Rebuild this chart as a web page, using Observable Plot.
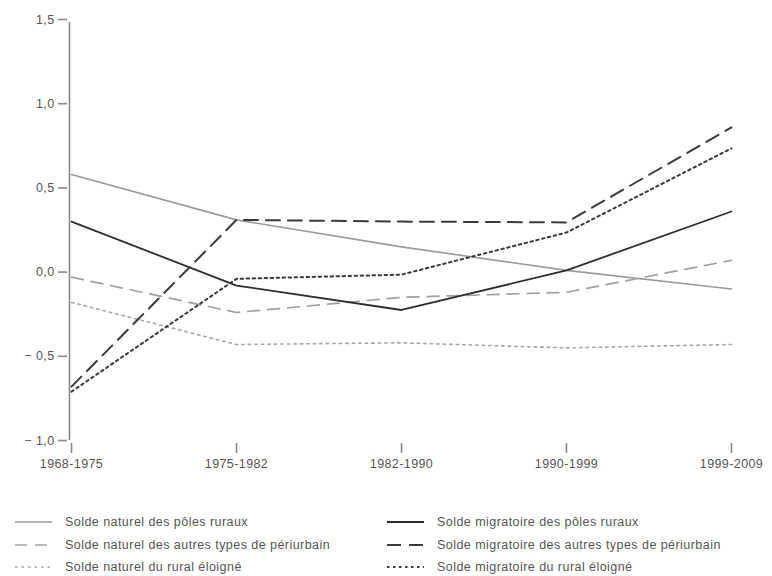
<!DOCTYPE html>
<html>
<head>
<meta charset="utf-8">
<script src="https://cdn.jsdelivr.net/npm/d3@7"></script>
<script src="https://cdn.jsdelivr.net/npm/@observablehq/plot@0.6"></script>
<style>
  html, body { margin: 0; padding: 0; background: #fff; }
  body { width: 772px; height: 576px; overflow: hidden; font-family: "Liberation Sans", Arial, sans-serif; }
  #legend { position: absolute; left: 0; top: 512px; width: 772px; font-size: 12.5px; letter-spacing: 0.45px; color: #555; }
  .item { position: absolute; height: 20px; display: flex; align-items: center; }
  .item svg { margin-right: 13px; }
</style>
</head>
<body>
<div id="chart"></div>
<div id="legend"></div>
<script>
const periods = ["1968-1975", "1975-1982", "1982-1990", "1990-1999", "1999-2009"];
const yTicks = [-1.0, -0.5, 0.0, 0.5, 1.0, 1.5];

const seriesNames = [
  "Solde naturel des pôles ruraux",
  "Solde naturel des autres types de périurbain",
  "Solde naturel du rural éloigné",
  "Solde migratoire des pôles ruraux",
  "Solde migratoire des autres types de périurbain",
  "Solde migratoire du rural éloigné"
];

const naturelPoles      = [0.58, 0.31, 0.15, 0.01, -0.10];
const naturelPeriurbain = [-0.03, -0.24, -0.15, -0.12, 0.07];
const naturelRural      = [-0.18, -0.43, -0.42, -0.45, -0.43];
const migratoirePoles      = [0.30, -0.08, -0.225, 0.01, 0.36];
const migratoirePeriurbain = [-0.68, 0.31, 0.30, 0.295, 0.86];
const migratoireRural      = [-0.71, -0.04, -0.015, 0.235, 0.735];

const seriesValues = [naturelPoles, naturelPeriurbain, naturelRural, migratoirePoles, migratoirePeriurbain, migratoireRural];

const styles = [
  {stroke: "#9a9a9a", strokeWidth: 1.6, dash: null},
  {stroke: "#a0a0a0", strokeWidth: 1.7, dash: "12,8"},
  {stroke: "#a6a6a6", strokeWidth: 1.6, dash: "2.5,4"},
  {stroke: "#2e2e2e", strokeWidth: 1.8, dash: null},
  {stroke: "#3a3a3a", strokeWidth: 2.0, dash: "14,8"},
  {stroke: "#3a3a3a", strokeWidth: 2.0, dash: "2.5,3.5"}
];

const fmt = d => {
  const s = Math.abs(d).toFixed(1).replace(".", ",");
  return d < 0 ? "\u2212 " + s : s;
};

const lineMarks = seriesValues.map((vals, i) => {
  const data = periods.map((p, j) => ({period: p, value: vals[j]}));
  const st = styles[i];
  return Plot.line(data, {
    x: "period", y: "value",
    stroke: st.stroke, strokeWidth: st.strokeWidth,
    strokeDasharray: st.dash || undefined
  });
});

const chart = Plot.plot({
  width: 772,
  height: 490,
  marginLeft: 69,
  marginRight: 40,
  marginTop: 19,
  marginBottom: 50,
  style: {fontFamily: "Liberation Sans, Arial, sans-serif", fontSize: "12.5px", color: "#555", letterSpacing: "0.4px"},
  x: {type: "point", domain: periods, padding: 0, label: null},
  y: {domain: [-1, 1.5], label: null},
  marks: [
    Plot.ruleX([periods[0]], {y1: -1, y2: 1.5, dx: -2, insetBottom: -3, stroke: "#8a8a8a", strokeWidth: 1.6}),
    Plot.ruleY([-1], {dy: 3, x1: periods[0], x2: periods[4], insetLeft: -2, stroke: "#8a8a8a", strokeWidth: 1.6}),
    Plot.axisY(yTicks, {
      tickSize: 9, dx: -2, tickPadding: 4, tickFormat: fmt, label: null,
      stroke: "#8a8a8a", strokeWidth: 1.6, fill: "#555"
    }),
    Plot.axisX(periods, {
      tickSize: 10, dy: 3, tickPadding: 6, label: null,
      stroke: "#8a8a8a", strokeWidth: 1.6, fill: "#555"
    }),
    ...lineMarks
  ]
});
document.getElementById("chart").appendChild(chart);

// Legend
const legend = d3.select("#legend");
const positions = [
  {left: 15, top: 0}, {left: 15, top: 23}, {left: 15, top: 45},
  {left: 387, top: 0}, {left: 387, top: 23}, {left: 387, top: 45}
];
seriesNames.forEach((name, i) => {
  const st = styles[i];
  const item = legend.append("div").attr("class", "item")
    .style("left", positions[i].left + "px").style("top", positions[i].top + "px");
  const sw = item.append("svg").attr("width", 37).attr("height", 10);
  sw.append("line").attr("x1", 0).attr("x2", 37).attr("y1", 5).attr("y2", 5)
    .attr("stroke", st.stroke).attr("stroke-width", st.strokeWidth)
    .attr("stroke-dasharray", st.dash ? st.dash : null);
  item.append("span").text(name);
});
</script>
</body>
</html>
